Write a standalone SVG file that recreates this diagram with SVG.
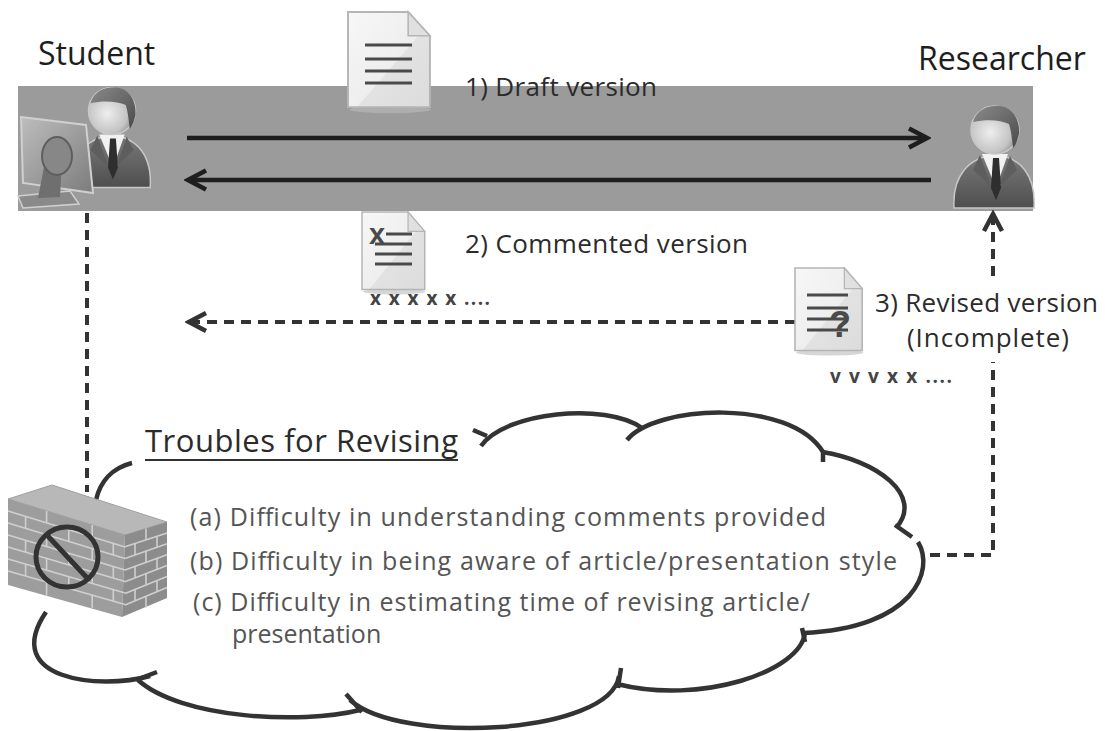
<svg xmlns="http://www.w3.org/2000/svg" width="1105" height="731" viewBox="0 0 1105 731">
  <defs>
    <style>
      .lbl { font-family: "Open Sans", "Liberation Sans", sans-serif; fill: #2b2b2b; }
      .role { font-size: 32px; fill: #1e1e1e; }
      .step { font-size: 26px; }
      .marks { font-size: 19px; font-weight: bold; fill: #444; }
      .item { font-family: "Open Sans", "Liberation Sans", sans-serif; font-size: 25px; fill: #555; }
      .solid { stroke: #1e1e1e; stroke-width: 4.5; fill: none; }
      .dash { stroke: #333; stroke-width: 4; fill: none; stroke-dasharray: 10 7; }
      .cloud { stroke: #333; stroke-width: 4.5; fill: none; stroke-linecap: butt; }
      .brick { stroke: #cfcfcf; stroke-width: 1.6; fill: none; }
      .docline { stroke: #4a4a4a; stroke-width: 3; }
    </style>
    <marker id="headSolid" markerUnits="userSpaceOnUse" viewBox="-22 -13 26 26" markerWidth="26" markerHeight="26" refX="0" refY="0" orient="auto">
      <path d="M-18,-9.5 L0,0 L-18,9.5" fill="none" stroke="#1e1e1e" stroke-width="4.5" stroke-dasharray="none"/>
    </marker>
    <marker id="headDash" markerUnits="userSpaceOnUse" viewBox="-22 -13 26 26" markerWidth="26" markerHeight="26" refX="0" refY="0" orient="auto">
      <path d="M-17,-9 L0,0 L-17,9" fill="none" stroke="#333" stroke-width="4.5" stroke-dasharray="none"/>
    </marker>
    <linearGradient id="paper" x1="0" y1="0" x2="1" y2="1">
      <stop offset="0" stop-color="#f7f7f7"/>
      <stop offset="0.55" stop-color="#eeeeee"/>
      <stop offset="0.56" stop-color="#e2e2e2"/>
      <stop offset="1" stop-color="#dcdcdc"/>
    </linearGradient>
    <radialGradient id="face" cx="0.4" cy="0.55" r="0.6">
      <stop offset="0" stop-color="#eeeeee"/>
      <stop offset="0.7" stop-color="#c4c4c4"/>
      <stop offset="1" stop-color="#8a8a8a"/>
    </radialGradient>
    <linearGradient id="hair" x1="0" y1="0" x2="1" y2="1">
      <stop offset="0" stop-color="#8a8a8a"/>
      <stop offset="1" stop-color="#4a4a4a"/>
    </linearGradient>
    <linearGradient id="suit" x1="0" y1="0" x2="0" y2="1">
      <stop offset="0" stop-color="#7a7a7a"/>
      <stop offset="1" stop-color="#4e4e4e"/>
    </linearGradient>
    <linearGradient id="screen" x1="0" y1="0" x2="1" y2="1">
      <stop offset="0" stop-color="#bdbdbd"/>
      <stop offset="1" stop-color="#7c7c7c"/>
    </linearGradient>
    <!-- person: head centred at origin -->
    <g id="person">
      <path d="M-41,78 C-43,46 -26,27 0,25 C26,27 41,46 39,78 Z" fill="url(#suit)" stroke="#c8c8c8" stroke-width="1.5"/>
      <path d="M-13,24 L13,24 L1,58 Z" fill="#f2f2f2"/>
      <path d="M-2,28 L4,28 L6,58 L1,70 L-4,58 Z" fill="#2e2e2e"/>
      <path d="M-15,25 L-4,56 L-22,40 Z" fill="#5e5e5e"/>
      <path d="M15,26 L5,56 L22,40 Z" fill="#5e5e5e"/>
      <circle cx="0" cy="0" r="24" fill="url(#face)" stroke="#c8c8c8" stroke-width="1.5"/>
      <path d="M-22,-8 C-18,-22 -4,-25 6,-24 C18,-22 25,-10 24,4 C22,12 20,16 18,18 C17,8 16,0 14,-6 C6,-10 -8,-11 -22,-8 Z" fill="url(#hair)"/>
    </g>
    <!-- blank page with folded corner, 64 x 80 -->
    <g id="page">
      <ellipse cx="33" cy="82" rx="32" ry="3" fill="#bbbbbb" opacity="0.6"/>
      <path d="M0,0 L47,0 L64,20 L64,80 L0,80 Z" fill="url(#paper)" stroke="#b5b5b5" stroke-width="1.5"/>
      <path d="M47,0 L47,20 L64,20 Z" fill="#e0e0e0" stroke="#b5b5b5" stroke-width="1.2"/>
    </g>
  </defs>

  <rect width="1105" height="731" fill="#ffffff"/>

  <!-- exchange band -->
  <rect id="band" x="18" y="86" width="1015" height="125" fill="#9b9b9b"/>

  <!-- draft document -->
  <g id="doc-draft">
    <use href="#page" transform="translate(348,12) scale(1.28,1.19)"/>
    <line class="docline" x1="365" y1="45" x2="412" y2="45"/>
    <line class="docline" x1="365" y1="59" x2="412" y2="59"/>
    <line class="docline" x1="365" y1="71" x2="412" y2="71"/>
    <line class="docline" x1="365" y1="83" x2="412" y2="83"/>
  </g>

  <!-- connectors -->
  <g id="connectors">
    <line class="solid" x1="187" y1="138" x2="927" y2="138" marker-end="url(#headSolid)"/>
    <line class="solid" x1="931" y1="180" x2="188" y2="180" marker-end="url(#headSolid)"/>
    <line class="dash" x1="795" y1="322" x2="189" y2="322" marker-end="url(#headDash)"/>
    <line class="dash" x1="87" y1="213" x2="87" y2="492"/>
    <path class="dash" d="M930,555 L993,555 L993,362"/>
    <line class="dash" x1="993" y1="276" x2="993" y2="214" marker-end="url(#headDash)"/>
  </g>

  <!-- student -->
  <g id="student">
    <use href="#person" transform="translate(112,111) scale(0.98)"/>
    <!-- monitor seen from behind -->
    <path d="M21,117 L86,125 L93,193 L23,183 Z" fill="url(#screen)" stroke="#d0d0d0" stroke-width="2"/>
    <path d="M18,196 L70,191 L79,204 L23,208 Z" fill="#8a8a8a" stroke="#d0d0d0" stroke-width="1.5"/>
    <path d="M45,162 L62,160 L60,197 L38,198 Z" fill="#6f6f6f"/>
    <ellipse cx="57" cy="156" rx="15" ry="19" fill="#878787" stroke="#5f5f5f" stroke-width="2"/>
    <text class="lbl role" x="38" y="65">Student</text>
  </g>

  <!-- researcher -->
  <g id="researcher">
    <use href="#person" transform="translate(995,130)"/>
    <text class="lbl role" x="918" y="70">Researcher</text>
  </g>

  <text class="lbl step" x="465" y="96" textLength="192">1) Draft version</text>

  <!-- commented document -->
  <g id="doc-commented">
    <use href="#page" transform="translate(362,212) scale(0.98,0.97)"/>
    <line class="docline" x1="386" y1="234" x2="412" y2="234"/>
    <line class="docline" x1="375" y1="244" x2="412" y2="244"/>
    <line class="docline" x1="375" y1="254" x2="412" y2="254"/>
    <line class="docline" x1="375" y1="264" x2="412" y2="264"/>
    <text x="369" y="244" font-family="'Liberation Sans', sans-serif" font-size="29" font-weight="bold" fill="#4a4a4a">x</text>
    <text class="lbl marks" x="370" y="305" textLength="120">x x x x x ....</text>
  </g>
  <text class="lbl step" x="465" y="253" textLength="283">2) Commented version</text>

  <!-- revised document -->
  <g id="doc-revised">
    <use href="#page" transform="translate(795,268) scale(1.05,1.03)"/>
    <line class="docline" x1="807" y1="295" x2="848" y2="295"/>
    <line class="docline" x1="807" y1="308" x2="848" y2="308"/>
    <line class="docline" x1="807" y1="319" x2="848" y2="319"/>
    <line class="docline" x1="807" y1="330" x2="848" y2="330"/>
    <text x="829" y="337" font-family="'Liberation Sans', sans-serif" font-size="36" font-weight="bold" fill="#4a4a4a">?</text>
    <text class="lbl marks" x="830" y="383" textLength="122">v v v x x ....</text>
  </g>
  <text class="lbl step" x="875" y="312" textLength="223">3) Revised version</text>
  <text class="lbl step" x="907" y="347" textLength="162">(Incomplete)</text>

  <!-- troubles cloud -->
  <g id="troubles">
    <path class="cloud" d="M96,500 C100,482 112,468 132,463"/>
    <path class="cloud" d="M473,430 L487,436 M481,446 C505,412 605,402 642,428"/>
    <path class="cloud" d="M627,440 C655,405 790,398 823,452 M823,450 L823,462"/>
    <path class="cloud" d="M822,452 C875,460 925,495 896,528 M895,525 L912,537"/>
    <path class="cloud" d="M918,542 C935,570 915,628 803,633 M802,628 L805,642"/>
    <path class="cloud" d="M805,633 C800,672 700,705 617,684 M621,668 L618,688"/>
    <path class="cloud" d="M619,676 C610,735 400,745 350,700 M346,694 L362,712"/>
    <path class="cloud" d="M360,710 C300,725 180,718 138,680 M157,672 L136,680"/>
    <path class="cloud" d="M150,676 C100,690 0,680 46,612"/>

    <text class="lbl" x="145" y="452" font-size="31" fill="#333" textLength="313">Troubles for Revising</text>
    <line x1="145" y1="460" x2="458" y2="460" stroke="#333" stroke-width="2"/>
    <text class="item" x="190" y="526" textLength="636">(a) Difficulty in understanding comments provided</text>
    <text class="item" x="190" y="570" textLength="707">(b) Difficulty in being aware of article/presentation style</text>
    <text class="item" x="193" y="611" textLength="617">(c) Difficulty in estimating time of revising article/</text>
    <text class="item" x="232" y="643" font-size="19px">presentation</text>
  </g>

  <!-- brick wall with prohibition sign -->
  <g id="wall">
    <path d="M8,499 L52,485 L167,522 L125,535 Z" fill="#b8b8b8" stroke="#a0a0a0" stroke-width="1"/>
    <path d="M8,499 L125,535 L122,617 L8,585 Z" fill="#9d9d9d"/>
    <path d="M125,535 L167,522 L167,598 L122,617 Z" fill="#8c8c8c"/>
    <path class="brick" d="M8,511 L125,547 M8,523 L125,558.5 M8,535 L125,570 M8,547 L125,581.5 M8,559 L125,593 M8,571 L125,604.5"/>
    <path class="brick" d="M46.6,510.9 V522.9 M92.2,524.9 V536.9
      M25.6,516.4 V528.3 M68.8,529.7 V541.5 M113.3,543.4 V555
      M46.6,534.7 V546.6 M92.2,548.6 V560.2
      M25.6,540.3 V552.2 M68.8,553.2 V564.9 M113.3,566.5 V578
      M46.6,558.4 V570.2 M92.2,571.8 V583.5
      M25.6,564.1 V576 M68.8,576.7 V588.4 M113.3,589.6 V601.2
      M46.6,582 V595.6 M92.2,595.1 V608"/>
    <path class="brick" d="M125,546.7 L167,532.9 M125,558.4 L167,543.8 M125,570 L167,554.7 M125,581.8 L167,565.6 M125,593.5 L167,576.5 M125,605 L167,587.4"/>
    <path class="brick" d="M146,528.5 V539.8 M146,551.1 V562.4 M146,573.7 V585 M146,596.3 V607.6
      M135,543.4 V554.9 M157,536.2 V547.3 M135,566.4 V577.9 M157,558.4 V569.5 M135,589.4 V600.9 M157,580.6 V591.7"/>
    <ellipse cx="67" cy="557" rx="31" ry="30" fill="none" stroke="#333" stroke-width="5"/>
    <line x1="46" y1="534" x2="89" y2="580" stroke="#333" stroke-width="5"/>
  </g>
</svg>
